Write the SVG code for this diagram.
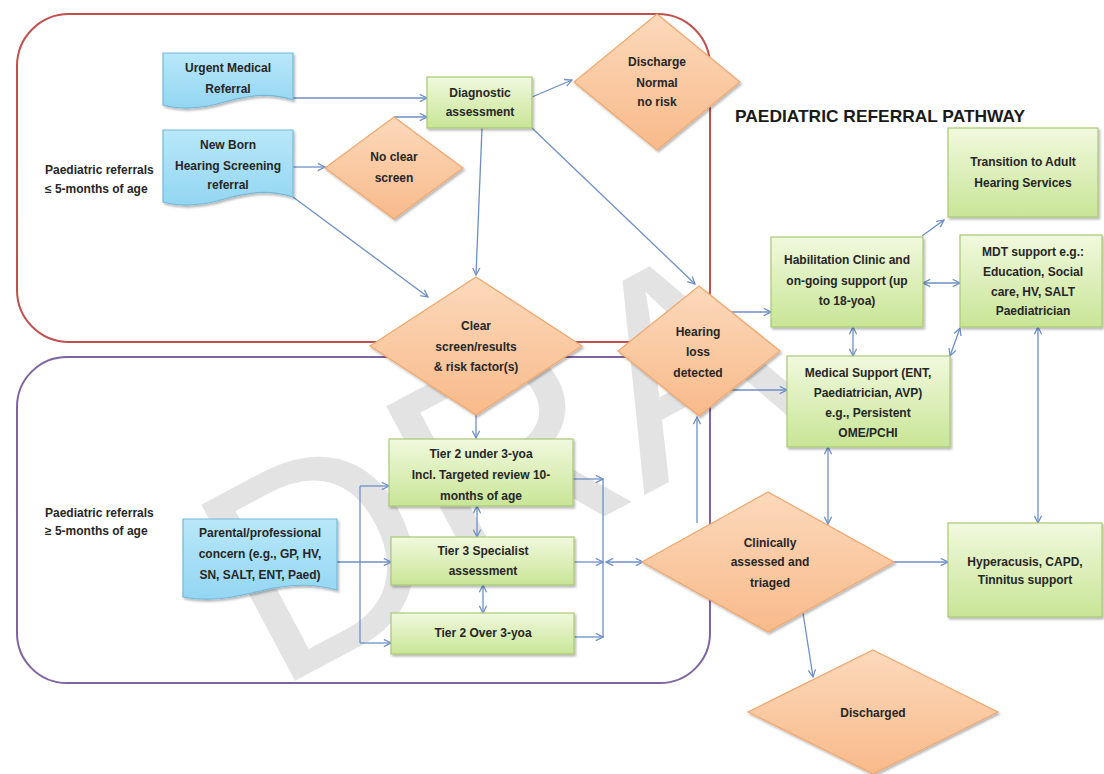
<svg xmlns="http://www.w3.org/2000/svg" width="1104" height="774" viewBox="0 0 1104 774">
<defs>
<style>
.t{font-family:"Liberation Sans",Arial,sans-serif;font-size:12px;font-weight:bold;fill:#262626;text-anchor:middle}
.lbl{font-family:"Liberation Sans",Arial,sans-serif;font-size:12px;font-weight:bold;fill:#262626}
.c{fill:none;stroke:#6d8fc6;stroke-width:1.3}
.a{marker-end:url(#ah)}
.d{marker-start:url(#ah);marker-end:url(#ah)}
.box{fill:url(#gGreen);stroke:#a9c873;stroke-width:1.2;filter:url(#sh)}
.dia{fill:url(#gOrange);stroke:#f0a76e;stroke-width:1.2;filter:url(#sh)}
.doc{fill:url(#gBlue);stroke:#74b9d8;stroke-width:1.2;filter:url(#sh)}
</style>
<linearGradient id="gGreen" x1="0" y1="0" x2="0" y2="1"><stop offset="0" stop-color="#f1f9de"/><stop offset="1" stop-color="#c8e596"/></linearGradient>
<linearGradient id="gOrange" x1="0" y1="0" x2="0" y2="1"><stop offset="0" stop-color="#fcd9bb"/><stop offset="1" stop-color="#f8ba8a"/></linearGradient>
<linearGradient id="gBlue" x1="0" y1="0" x2="0" y2="1"><stop offset="0" stop-color="#b8e7f9"/><stop offset="1" stop-color="#93d6f2"/></linearGradient>
<filter id="sh" x="-10%" y="-10%" width="130%" height="140%"><feDropShadow dx="1.5" dy="2" stdDeviation="1.2" flood-color="#000" flood-opacity="0.28"/></filter>
<marker id="ah" viewBox="0 0 10 10" refX="9" refY="5" markerWidth="9" markerHeight="9" markerUnits="userSpaceOnUse" orient="auto-start-reverse"><path d="M1,1 L9,5 L1,9" fill="none" stroke="#6d8fc6" stroke-width="1.4"/></marker>
</defs>
<rect width="1104" height="774" fill="#ffffff"/>
<text id="watermark" x="0" y="0" transform="translate(274,692) rotate(-28)" font-family="Liberation Sans,Arial,sans-serif" font-size="290" fill="#d0d0d0" fill-opacity="0.6">DRA</text>
<g id="regions">
<rect x="17" y="14" width="693" height="328" rx="52" fill="none" stroke="#c0504d" stroke-width="2"/>
<rect x="17" y="357" width="693" height="326" rx="50" fill="none" stroke="#8064a2" stroke-width="2"/>
</g>
<g id="connectors">
<path class="c a" d="M293,98 H427"/>
<path class="c a" d="M394,117 H427"/>
<path class="c a" d="M293,167 H325"/>
<path class="c a" d="M293,197 L428,297"/>
<path class="c a" d="M482,128 L476,275"/>
<path class="c a" d="M532,97 L572,80"/>
<path class="c a" d="M532,128 L695,284"/>
<path class="c a" d="M476,415 V438"/>
<path class="c a" d="M731,312 H771"/>
<path class="c a" d="M731,390 H787"/>
<path class="c a" d="M922,236 L944,220"/>
<path class="c d" d="M923,283 H960"/>
<path class="c d" d="M853,327 V356"/>
<path class="c d" d="M960,328 L950,356"/>
<path class="c d" d="M1038,327 V523"/>
<path class="c d" d="M828,447 V524"/>
<path class="c a" d="M894,562 H948"/>
<path class="c a" d="M803,613 L813,677"/>
<path class="c a" d="M697,523 V417"/>
<path class="c a" d="M337,562 H391"/>
<path class="c" d="M360,486 V643"/>
<path class="c a" d="M360,486 H389"/>
<path class="c a" d="M360,643 H391"/>
<path class="c a" d="M573,479 H603"/>
<path class="c a" d="M574,562 H603"/>
<path class="c a" d="M574,637 H603"/>
<path class="c" d="M603,479 V637"/>
<path class="c d" d="M606,562 H643"/>
<path class="c d" d="M477,506 V537"/>
<path class="c d" d="M483,585 V613"/>
</g>
<g id="urgent">
<path class="doc" d="M163,53 H293 V100 C272,93 252,94 228,101 C205,108 184,111 163,105 Z"/>
<text class="t" x="228" y="72">Urgent Medical</text>
<text class="t" x="228" y="93">Referral</text>
</g>
<g id="newborn">
<path class="doc" d="M163,130 H293 V197 C272,190 252,191 228,198 C205,205 184,208 163,202 Z"/>
<text class="t" x="228" y="149">New Born</text>
<text class="t" x="228" y="170">Hearing Screening</text>
<text class="t" x="228" y="189">referral</text>
</g>
<g id="parental">
<path class="doc" d="M183,519 H337 V590 C312,583 290,584 260,591 C232,598 208,602 183,597 Z"/>
<text class="t" x="260" y="537">Parental/professional</text>
<text class="t" x="260" y="558">concern (e.g., GP, HV,</text>
<text class="t" x="260" y="579">SN, SALT, ENT, Paed)</text>
</g>
<g id="label-under5">
<text class="lbl" x="45" y="174">Paediatric referrals</text>
<text class="lbl" x="45" y="193">≤ 5-months of age</text>
</g>
<g id="label-over5">
<text class="lbl" x="45" y="517">Paediatric referrals</text>
<text class="lbl" x="45" y="535">≥ 5-months of age</text>
</g>
<g id="diagnostic">
<rect class="box" x="427" y="77" width="105" height="51"/>
<text class="t" x="480" y="97">Diagnostic</text>
<text class="t" x="480" y="116">assessment</text>
</g>
<g id="noclear">
<polygon class="dia" points="394,117 463,168 394,219 325,168"/>
<text class="t" x="394" y="161">No clear</text>
<text class="t" x="394" y="182">screen</text>
</g>
<g id="discharge-normal">
<polygon class="dia" points="657,14 740,82 657,150 574,82"/>
<text class="t" x="657" y="66">Discharge</text>
<text class="t" x="657" y="87">Normal</text>
<text class="t" x="657" y="106">no risk</text>
</g>
<g id="title">
<text x="735" y="122" font-family="Liberation Sans,Arial,sans-serif" font-size="17" font-weight="bold" fill="#1a1a1a" textLength="290" lengthAdjust="spacingAndGlyphs">PAEDIATRIC REFERRAL PATHWAY</text>
</g>
<g id="clear">
<polygon class="dia" points="476,277 582,346 476,415 370,346"/>
<text class="t" x="476" y="330">Clear</text>
<text class="t" x="476" y="351">screen/results</text>
<text class="t" x="476" y="371">&amp; risk factor(s)</text>
</g>
<g id="hearingloss">
<polygon class="dia" points="699,286 780,351 699,416 618,351"/>
<text class="t" x="698" y="336">Hearing</text>
<text class="t" x="698" y="356">loss</text>
<text class="t" x="698" y="377">detected</text>
</g>
<g id="transition">
<rect class="box" x="948" y="128" width="150" height="89"/>
<text class="t" x="1023" y="166">Transition to Adult</text>
<text class="t" x="1023" y="187">Hearing Services</text>
</g>
<g id="habilitation">
<rect class="box" x="771" y="237" width="152" height="90"/>
<text class="t" x="847" y="264">Habilitation Clinic and</text>
<text class="t" x="847" y="285">on-going support (up</text>
<text class="t" x="847" y="305">to 18-yoa)</text>
</g>
<g id="mdt">
<rect class="box" x="960" y="235" width="142" height="92"/>
<text class="t" x="1033" y="256">MDT support e.g.:</text>
<text class="t" x="1033" y="276">Education, Social</text>
<text class="t" x="1033" y="296">care, HV, SALT</text>
<text class="t" x="1033" y="315">Paediatrician</text>
</g>
<g id="medical">
<rect class="box" x="787" y="356" width="163" height="91"/>
<text class="t" x="868" y="377">Medical Support (ENT,</text>
<text class="t" x="868" y="397">Paediatrician, AVP)</text>
<text class="t" x="868" y="417">e.g., Persistent</text>
<text class="t" x="868" y="437">OME/PCHI</text>
</g>
<g id="tier2under">
<rect class="box" x="389" y="439" width="184" height="67"/>
<text class="t" x="481" y="458">Tier 2 under 3-yoa</text>
<text class="t" x="481" y="479">Incl. Targeted review 10-</text>
<text class="t" x="481" y="500">months of age</text>
</g>
<g id="tier3">
<rect class="box" x="391" y="537" width="183" height="48"/>
<text class="t" x="483" y="555">Tier 3 Specialist</text>
<text class="t" x="483" y="575">assessment</text>
</g>
<g id="tier2over">
<rect class="box" x="391" y="613" width="183" height="41"/>
<text class="t" x="483" y="637">Tier 2 Over 3-yoa</text>
</g>
<g id="clinically">
<polygon class="dia" points="768,492 894,562 768,632 642,562"/>
<text class="t" x="770" y="547">Clinically</text>
<text class="t" x="770" y="566">assessed and</text>
<text class="t" x="770" y="587">triaged</text>
</g>
<g id="hyperacusis">
<rect class="box" x="948" y="523" width="154" height="94"/>
<text class="t" x="1025" y="566">Hyperacusis, CAPD,</text>
<text class="t" x="1025" y="584">Tinnitus support</text>
</g>
<g id="discharged">
<polygon class="dia" points="873,650 998,712 873,774 748,712"/>
<text class="t" x="873" y="717">Discharged</text>
</g>
</svg>
